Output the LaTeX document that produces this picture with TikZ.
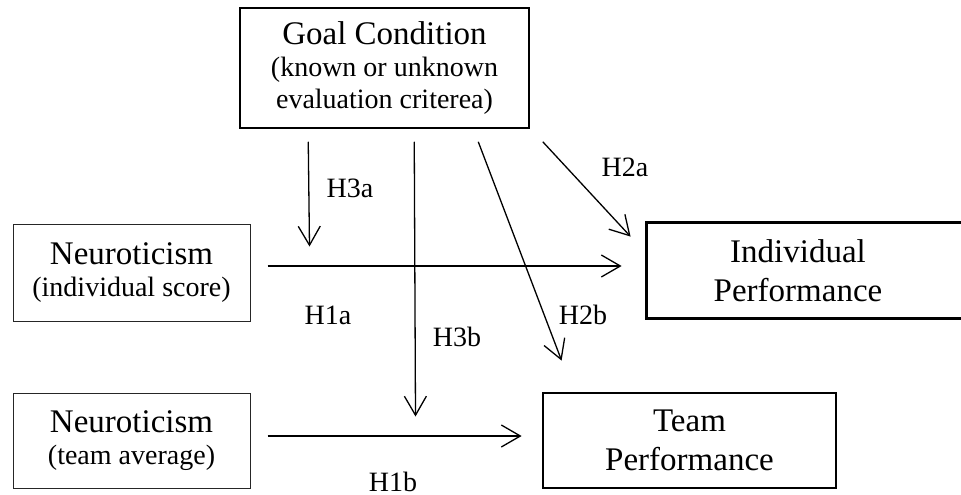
\documentclass[tikz,border=0pt]{standalone}
\usepackage{fontspec}
\setmainfont{Liberation Serif}
\usetikzlibrary{arrows.meta,positioning}
\newcommand{\bigtxt}{\fontsize{33}{39}\selectfont}
\newcommand{\headtxt}{\fontsize{33}{32}\selectfont}
\newcommand{\smalltxt}{\fontsize{28}{32}\selectfont}

\begin{document}
\begin{tikzpicture}[x=1pt,y=-1pt]
	\tikzstyle{thinbox}=[rectangle, draw=black!85, line width=1pt, align=center, font=\headtxt, inner sep=0pt]
	\tikzstyle{perfbox}=[rectangle, draw=black, line width=2.8pt, align=center, font=\bigtxt, inner sep=0pt]
	\tikzstyle{connect}=[-{Straight Barb[length=19pt,width=22pt]}, line width=1.3pt]
	\tikzstyle{hyp}=[font=\smalltxt, inner sep=0pt]
	\useasboundingbox (0,0) rectangle (961,495);

	  \node[thinbox, line width=1.5pt, draw=black, minimum width=289pt, minimum height=120pt] (goal) at (384.5,68) {Goal Condition\\ \smalltxt (known or unknown\\ \smalltxt evaluation criterea)};
	  \node[thinbox, minimum width=237pt, minimum height=97pt] (neuind) at (131.5,272.5) {Neuroticism\\ \smalltxt (individual score)};
	  \node[thinbox, minimum width=237pt, minimum height=95pt] (neuteam) at (131.5,440.5) {Neuroticism\\ \smalltxt (team average)};
	  \node[perfbox, draw=none, minimum width=300pt, minimum height=93pt] (indperf) at (798,270.5) {Individual\\ Performance};
	  \node[perfbox, minimum width=293pt, minimum height=95pt] (teamperf) at (689.5,440.5) {Team\\ Performance};
	  % box cut off at the right border
	  \draw[line width=2.8pt] ([xshift=40pt]indperf.north east) -- (indperf.north west) -- (indperf.south west) -- ([xshift=40pt]indperf.south east);

	  \coordinate (h3a) at ([shift={(59,23)}]neuind.north east);
	  \coordinate (h3b) at ([shift={(165,24)}]neuteam.north east);
	  \path ([shift={(69,13)}]goal.south west) edge [connect] (h3a)
			([shift={(175,13)}]goal.south west) edge [connect] (h3b)
			([shift={(239,13)}]goal.south west) edge [connect] ([shift={(20,-31)}]teamperf.north west)
			([shift={(13,13)}]goal.south east) edge [connect] ([shift={(-16,14)}]indperf.north west)
			([shift={(17,-6.5)}]neuind.east) edge [connect] ([shift={(-25,-4.5)}]indperf.west)
			([shift={(17,-4.5)}]neuteam.east) edge [connect] ([shift={(-20,-4.5)}]teamperf.west);

	  \node[hyp] (lh3a) at (350,188) {H3a};
	  \node[hyp] (lh2a) at (625,167) {H2a};
	  \node[hyp] (lh1a) at (328,315) {H1a};
	  \node[hyp] (lh2b) at (583,315) {H2b};
	  \node[hyp] (lh3b) at (457,337) {H3b};
	  \node[hyp] (lh1b) at (393,482) {H1b};

	\end{tikzpicture}
\end{document}
